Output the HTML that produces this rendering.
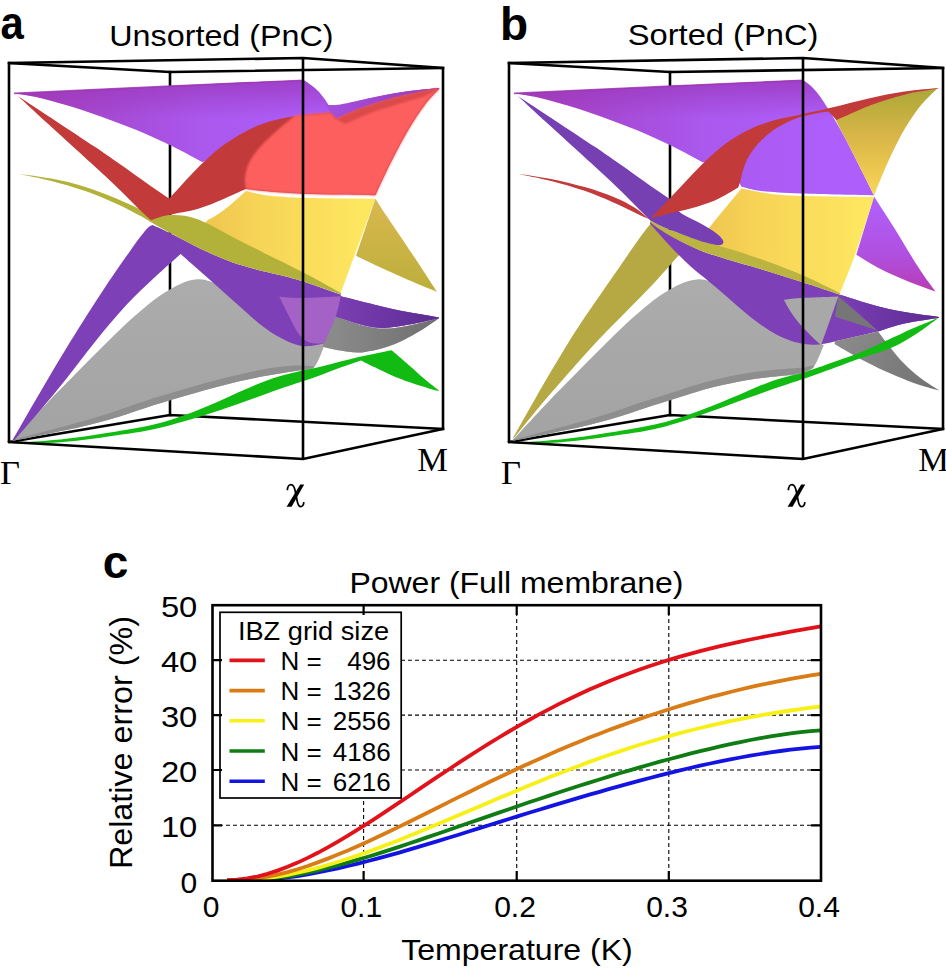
<!DOCTYPE html>
<html><head><meta charset="utf-8"><title>Band structure figure</title>
<style>html,body{margin:0;padding:0;background:#fff;width:946px;height:968px;overflow:hidden}svg{display:block}
</style></head>
<body>
<svg width="946" height="968" viewBox="0 0 946 968">
<defs><linearGradient id="gp1a" gradientUnits="userSpaceOnUse" x1="14" y1="0" x2="330" y2="0"><stop offset="0" stop-color="#a83cb8"/><stop offset="0.3" stop-color="#a64ad4"/><stop offset="0.6" stop-color="#aa58ee"/><stop offset="1" stop-color="#ae5efa"/></linearGradient><linearGradient id="gp1oa" gradientUnits="userSpaceOnUse" x1="0" y1="80" x2="0" y2="118"><stop offset="0" stop-color="#9a36b8" stop-opacity="0.75"/><stop offset="1" stop-color="#9a36b8" stop-opacity="0"/></linearGradient><linearGradient id="gp1va" gradientUnits="userSpaceOnUse" x1="0" y1="80" x2="0" y2="100"><stop offset="0" stop-color="#9a34b0"/><stop offset="0.25" stop-color="#a040c0"/><stop offset="1" stop-color="#a040c0"/></linearGradient><linearGradient id="gr1a" gradientUnits="userSpaceOnUse" x1="260" y1="142" x2="276" y2="154"><stop offset="0" stop-color="#c23a3a"/><stop offset="1" stop-color="#fc5e5e"/></linearGradient><linearGradient id="gy2a" gradientUnits="userSpaceOnUse" x1="215" y1="0" x2="360" y2="0"><stop offset="0" stop-color="#f0c850"/><stop offset="0.3" stop-color="#f7d456"/><stop offset="1" stop-color="#fde660"/></linearGradient><linearGradient id="ggra" gradientUnits="userSpaceOnUse" x1="0" y1="280" x2="0" y2="420"><stop offset="0" stop-color="#acacac"/><stop offset="1" stop-color="#a4a4a4"/></linearGradient><linearGradient id="gg3a" gradientUnits="userSpaceOnUse" x1="0" y1="200" x2="0" y2="292"><stop offset="0" stop-color="#d9b850"/><stop offset="1" stop-color="#bcae3a"/></linearGradient><linearGradient id="gp1b" gradientUnits="userSpaceOnUse" x1="514" y1="0" x2="830" y2="0"><stop offset="0" stop-color="#a83cb8"/><stop offset="0.3" stop-color="#a64ad4"/><stop offset="0.6" stop-color="#aa58ee"/><stop offset="1" stop-color="#ae5efa"/></linearGradient><linearGradient id="gp1ob" gradientUnits="userSpaceOnUse" x1="0" y1="80" x2="0" y2="118"><stop offset="0" stop-color="#9a36b8" stop-opacity="0.75"/><stop offset="1" stop-color="#9a36b8" stop-opacity="0"/></linearGradient><linearGradient id="gp1vb" gradientUnits="userSpaceOnUse" x1="0" y1="80" x2="0" y2="100"><stop offset="0" stop-color="#9a34b0"/><stop offset="0.25" stop-color="#a040c0"/><stop offset="1" stop-color="#a040c0"/></linearGradient><linearGradient id="gr1b" gradientUnits="userSpaceOnUse" x1="760" y1="142" x2="776" y2="154"><stop offset="0" stop-color="#c23a3a"/><stop offset="1" stop-color="#fc5e5e"/></linearGradient><linearGradient id="gy2b" gradientUnits="userSpaceOnUse" x1="715" y1="0" x2="860" y2="0"><stop offset="0" stop-color="#f0c850"/><stop offset="0.3" stop-color="#f7d456"/><stop offset="1" stop-color="#fde660"/></linearGradient><linearGradient id="ggrb" gradientUnits="userSpaceOnUse" x1="0" y1="280" x2="0" y2="420"><stop offset="0" stop-color="#acacac"/><stop offset="1" stop-color="#a4a4a4"/></linearGradient><linearGradient id="gg3b" gradientUnits="userSpaceOnUse" x1="0" y1="200" x2="0" y2="292"><stop offset="0" stop-color="#d9b850"/><stop offset="1" stop-color="#bcae3a"/></linearGradient><linearGradient id="gp1s" gradientUnits="userSpaceOnUse" x1="330" y1="0" x2="440" y2="0"><stop offset="0" stop-color="#a44ede"/><stop offset="1" stop-color="#9a3ab6"/></linearGradient><linearGradient id="ggrd" gradientUnits="userSpaceOnUse" x1="835" y1="335" x2="935" y2="390"><stop offset="0" stop-color="#8c8c8c"/><stop offset="1" stop-color="#727272"/></linearGradient><linearGradient id="ggrs" gradientUnits="userSpaceOnUse" x1="335" y1="0" x2="439" y2="0"><stop offset="0" stop-color="#8a8a8a"/><stop offset="1" stop-color="#6e6e6e"/></linearGradient><linearGradient id="gp2sa" gradientUnits="userSpaceOnUse" x1="340" y1="0" x2="439" y2="0"><stop offset="0" stop-color="#7a3eb0"/><stop offset="0.4" stop-color="#6e36a6"/><stop offset="1" stop-color="#5c2c90"/></linearGradient><linearGradient id="gp2sb" gradientUnits="userSpaceOnUse" x1="840" y1="0" x2="939" y2="0"><stop offset="0" stop-color="#7a3eb0"/><stop offset="0.4" stop-color="#6e36a6"/><stop offset="1" stop-color="#5c2c90"/></linearGradient><linearGradient id="ggold" gradientUnits="userSpaceOnUse" x1="0" y1="90" x2="0" y2="195"><stop offset="0" stop-color="#aca838"/><stop offset="0.45" stop-color="#dab648"/><stop offset="1" stop-color="#fad656"/></linearGradient><linearGradient id="gp1l" gradientUnits="userSpaceOnUse" x1="0" y1="200" x2="0" y2="291"><stop offset="0" stop-color="#b060fa"/><stop offset="0.6" stop-color="#b050e0"/><stop offset="1" stop-color="#b83cb4"/></linearGradient><filter id="soft" x="-5%" y="-5%" width="110%" height="110%"><feGaussianBlur stdDeviation="0.9"/></filter></defs>
<rect width="946" height="968" fill="#fff"/>
<g stroke="#000" stroke-width="2.6" fill="none" stroke-linecap="square">
<path d="M170,72 L170,415"/>
<path d="M9,442 L170,415 L443,429"/>
<path d="M9,63 L170,72 L443,68"/>
</g>
<g stroke="#000" stroke-width="2.6" fill="none" stroke-linecap="square">
<path d="M670,72 L670,415"/>
<path d="M509,442 L670,415 L943,429"/>
<path d="M509,63 L670,72 L943,68"/>
</g>
<g stroke="none">
<path d="M13.5,93.2 C37.9,92.1 111.7,88.6 160.0,86.4 C208.3,84.2 279.6,81.1 303.5,80.0 C305.3,81.3 311.2,84.9 314.5,87.8 C317.8,90.7 320.7,94.0 323.4,97.4 C326.1,100.8 329.4,106.4 330.6,108.2 C337.5,106.5 359.2,100.7 372.1,97.8 C384.9,95.0 396.4,92.9 407.6,91.3 C418.7,89.6 433.6,88.5 438.8,87.9 L439.5,88.6 C436.3,89.2 428.4,90.6 420.4,92.3 C412.4,94.0 401.4,96.3 391.5,99.1 C381.6,101.8 370.0,105.4 360.9,108.8 C351.7,112.2 340.6,117.5 336.5,119.2 C329.9,120.3 310.4,122.9 296.6,126.0 C282.8,129.2 266.4,133.7 253.8,138.2 C241.1,142.8 229.2,149.3 220.7,153.3 C212.1,157.3 205.6,160.7 202.6,162.2 C197.4,159.5 182.4,151.2 171.4,145.8 C160.4,140.5 148.1,135.0 136.5,130.1 C124.8,125.3 113.0,120.9 101.5,116.8 C90.0,112.7 78.4,108.9 67.7,105.6 C57.0,102.3 46.2,99.3 37.2,97.2 C28.2,95.2 17.4,93.9 13.5,93.2 Z" fill="url(#gp1a)"/>
<path d="M13.5,93.2 C37.9,92.1 111.7,88.6 160.0,86.4 C208.3,84.2 279.6,81.1 303.5,80.0 C305.3,81.3 311.2,84.9 314.5,87.8 C317.8,90.7 320.7,94.0 323.4,97.4 C326.1,100.8 329.4,106.4 330.6,108.2 C337.5,106.5 359.2,100.7 372.1,97.8 C384.9,95.0 396.4,92.9 407.6,91.3 C418.7,89.6 433.6,88.5 438.8,87.9 L439.5,88.6 C436.3,89.2 428.4,90.6 420.4,92.3 C412.4,94.0 401.4,96.3 391.5,99.1 C381.6,101.8 370.0,105.4 360.9,108.8 C351.7,112.2 340.6,117.5 336.5,119.2 C329.9,120.3 310.4,122.9 296.6,126.0 C282.8,129.2 266.4,133.7 253.8,138.2 C241.1,142.8 229.2,149.3 220.7,153.3 C212.1,157.3 205.6,160.7 202.6,162.2 C197.4,159.5 182.4,151.2 171.4,145.8 C160.4,140.5 148.1,135.0 136.5,130.1 C124.8,125.3 113.0,120.9 101.5,116.8 C90.0,112.7 78.4,108.9 67.7,105.6 C57.0,102.3 46.2,99.3 37.2,97.2 C28.2,95.2 17.4,93.9 13.5,93.2 Z" fill="url(#gp1oa)"/>
<path d="M14,93.4 L160,86.6 L303.5,80.3" fill="none" stroke="#9c36b0" stroke-width="1.6" opacity="0.8"/>
<path d="M326.0,105.0 C328.4,104.9 332.8,105.6 340.5,104.4 C348.1,103.3 360.9,100.0 372.1,97.8 C383.2,95.7 396.4,92.9 407.6,91.3 C418.7,89.6 433.6,88.5 438.8,87.9 L439.5,88.6 C436.3,89.2 428.4,90.6 420.4,92.3 C412.4,94.0 401.4,96.3 391.5,99.1 C381.6,101.8 370.0,105.4 360.9,108.8 C351.7,112.2 340.6,117.5 336.5,119.2 C335.5,118.1 332.4,114.8 330.6,112.4 C328.9,110.0 326.8,106.2 326.0,105.0 Z" fill="url(#gp1s)"/>
<path d="M246.0,191.0 C250.0,191.8 259.1,194.6 269.9,195.7 C280.7,196.9 293.0,197.5 310.5,198.0 C328.1,198.5 364.6,198.6 375.4,198.7 L340.7,292.9 C333.9,290.7 313.2,284.8 299.8,279.7 C286.4,274.7 272.3,268.7 260.3,262.8 C248.4,256.8 237.3,250.5 228.0,244.2 C218.6,238.0 208.2,228.2 204.3,225.0 C204.8,224.2 205.4,222.0 207.2,220.4 C209.0,218.9 211.8,218.2 215.2,215.9 C218.7,213.7 222.7,211.1 227.8,206.9 C232.9,202.8 243.0,193.7 246.0,191.0 Z" fill="url(#gy2a)"/>
<path d="M375.4,198.7 C377.0,201.2 380.9,207.4 384.9,213.5 C389.0,219.6 394.3,227.3 399.8,235.4 C405.2,243.5 411.4,252.8 417.7,262.2 C423.9,271.6 433.9,287.0 437.1,292.0 C432.9,290.3 420.5,285.2 412.1,281.6 C403.8,278.1 396.6,274.8 387.2,270.5 C377.9,266.2 361.2,258.2 356.0,255.7 L375.4,198.7 Z" fill="url(#gg3a)"/>
<path d="M12.7,440.0 C18.3,434.0 36.1,414.5 46.3,403.9 C56.4,393.2 64.2,385.6 73.5,376.1 C82.9,366.7 92.4,356.8 102.3,347.1 C112.2,337.3 123.5,326.1 133.0,317.6 C142.5,309.2 151.4,301.8 159.4,296.1 C167.4,290.5 174.7,286.5 180.9,283.7 C187.2,280.9 192.1,279.6 197.1,279.3 C202.1,279.0 205.3,279.6 211.1,281.8 C217.0,283.9 223.4,287.6 231.9,292.3 C240.5,297.0 251.8,304.0 262.5,310.0 C273.2,316.0 285.7,322.8 295.9,328.4 C306.2,334.0 319.2,341.1 323.8,343.6 L335.7,316.6 C340.1,318.1 354.2,323.4 362.2,325.4 C370.3,327.4 376.4,328.6 384.2,328.6 C392.1,328.6 400.1,327.1 409.3,325.4 C418.4,323.7 434.0,319.4 439.0,318.2 C435.6,320.4 426.7,327.1 418.6,331.7 C410.6,336.3 400.1,342.2 390.7,345.6 C381.2,349.1 370.2,351.5 361.9,352.4 C353.6,353.2 347.1,351.5 340.7,350.6 C334.4,349.7 326.6,347.6 323.8,347.0 C322.1,350.5 317.8,364.1 313.6,368.0 C309.4,371.9 300.9,370.2 298.4,370.6 C292.8,371.5 276.6,373.8 264.6,376.1 C252.6,378.4 240.2,381.1 226.5,384.6 C212.8,388.0 196.3,392.7 182.7,396.6 C169.0,400.5 155.8,404.7 144.6,408.2 C133.4,411.8 125.4,414.8 115.3,417.8 C105.3,420.7 95.5,423.4 84.6,426.0 C73.6,428.6 61.7,430.9 49.7,433.4 C37.7,435.9 18.9,439.6 12.7,440.8 Z" fill="url(#ggra)"/>
<path d="M12.7,439.8 C18.9,438.2 37.7,433.4 49.7,430.2 C61.7,427.0 73.6,423.9 84.6,420.8 C95.5,417.6 105.3,414.4 115.3,411.2 C125.4,407.9 133.4,404.8 144.6,401.2 C155.8,397.6 169.0,393.5 182.7,389.6 C196.3,385.7 212.8,381.0 226.5,377.6 C240.2,374.1 253.4,371.1 264.6,369.1 C275.8,367.1 285.6,366.0 293.8,365.5 C301.9,365.1 310.3,366.1 313.6,366.2 L313.6,368.0 C310.3,368.5 301.9,369.9 293.8,371.2 C285.6,372.6 275.8,373.9 264.6,376.1 C253.4,378.3 240.2,381.1 226.5,384.6 C212.8,388.0 196.3,392.7 182.7,396.6 C169.0,400.5 155.8,404.7 144.6,408.2 C133.4,411.8 125.4,414.8 115.3,417.8 C105.3,420.7 95.5,423.4 84.6,426.0 C73.6,428.6 61.7,430.9 49.7,433.4 C37.7,435.9 18.9,439.6 12.7,440.8 L12.7,439.8 Z" fill="#8e8e8e"/>
<path d="M335.7,316.6 C340.1,318.1 354.2,323.4 362.2,325.4 C370.3,327.4 376.4,328.6 384.2,328.6 C392.1,328.6 400.1,327.1 409.3,325.4 C418.4,323.7 434.0,319.4 439.0,318.2 C435.6,320.4 426.7,327.1 418.6,331.7 C410.6,336.3 400.1,342.2 390.7,345.6 C381.2,349.1 370.2,351.5 361.9,352.4 C353.6,353.2 347.1,351.5 340.7,350.6 C334.4,349.7 326.6,347.6 323.8,347.0 C323.8,346.4 321.8,348.7 323.8,343.6 C325.8,338.5 333.7,321.1 335.7,316.6 Z" fill="url(#ggrs)"/>
<path d="M12.4,440.3 C17.2,432.1 31.2,407.4 40.9,390.9 C50.6,374.3 60.4,357.7 70.7,341.1 C80.9,324.6 92.3,306.6 102.3,291.4 C112.3,276.2 123.5,260.2 130.8,249.9 C138.1,239.6 142.5,233.8 146.1,229.7 C149.7,225.5 151.2,225.8 152.2,225.0 C153.8,225.7 156.8,226.7 161.6,228.9 C166.3,231.2 173.3,234.7 180.6,238.4 C187.9,242.1 197.0,247.1 205.4,251.0 C213.7,254.9 222.3,258.7 230.7,261.8 C239.2,264.9 247.9,267.2 256.1,269.4 C264.3,271.6 271.5,272.9 279.8,275.1 C288.0,277.2 295.4,279.1 305.6,282.3 C315.7,285.6 334.8,292.6 340.7,294.6 L341.0,296.3 C346.6,297.7 363.5,302.1 374.6,304.7 C385.8,307.4 396.9,310.0 407.6,312.1 C418.3,314.2 433.8,316.5 439.0,317.4 L439.0,318.2 C434.0,319.3 418.4,322.9 409.3,324.6 C400.1,326.2 392.1,327.9 384.2,327.9 C376.4,328.0 370.3,326.9 362.2,325.0 C354.2,323.1 340.1,318.0 335.7,316.6 L323.8,343.6 C321.4,344.0 314.2,346.0 309.4,346.1 C304.7,346.3 300.9,346.1 295.6,344.4 C290.2,342.8 283.4,339.6 277.2,336.0 C271.1,332.4 264.4,327.5 258.4,322.9 C252.4,318.2 247.1,313.1 241.5,308.1 C235.9,303.1 230.0,297.8 224.6,292.9 C219.2,288.0 213.9,283.3 208.9,278.9 C204.0,274.6 199.7,270.8 195.0,266.7 C190.2,262.5 183.0,256.1 180.6,254.0 C176.4,257.8 164.4,268.3 155.3,276.8 C146.3,285.3 136.3,294.3 126.3,305.1 C116.4,315.8 105.5,329.0 95.5,341.2 C85.6,353.4 75.9,366.6 66.7,378.2 C57.4,389.8 48.8,400.2 40.1,410.5 C31.4,420.8 18.8,435.1 14.5,440.0 Z" fill="#7e40b6"/>
<path d="M341.0,296.3 C346.6,297.7 363.5,302.1 374.6,304.7 C385.8,307.4 396.9,310.0 407.6,312.1 C418.3,314.2 433.8,316.5 439.0,317.4 L439.0,318.2 C434.0,319.3 418.4,322.9 409.3,324.6 C400.1,326.2 392.1,327.9 384.2,327.9 C376.4,328.0 370.3,326.9 362.2,325.0 C354.2,323.1 340.1,318.0 335.7,316.6 L341.0,296.3 Z" fill="url(#gp2sa)"/>
<path d="M279.3,296.8 C283.3,297.0 293.3,298.1 303.5,298.0 C313.7,297.9 334.5,296.6 340.7,296.3 C339.9,299.7 338.5,308.7 335.7,316.6 C332.9,324.5 325.8,339.1 323.8,343.6 C321.4,343.4 313.5,344.1 309.4,342.6 C305.4,341.2 302.5,338.8 299.2,334.6 C296.0,330.5 293.1,324.0 289.8,317.7 C286.5,311.4 281.1,300.3 279.3,296.8 Z" fill="#a462c6"/>
<path d="M19.5,173.9 C24.8,174.7 40.5,176.4 51.4,178.6 C62.2,180.7 73.8,183.4 84.6,186.8 C95.4,190.1 106.9,194.8 116.3,198.6 C125.7,202.4 133.8,206.8 140.8,209.4 C147.7,212.0 152.6,213.2 158.2,214.2 C163.8,215.1 169.1,214.6 174.4,215.1 C179.8,215.5 184.8,215.6 190.2,216.9 C195.5,218.2 199.7,219.8 206.4,223.0 C213.2,226.2 221.0,230.8 230.8,235.9 C240.5,241.0 253.1,247.4 265.0,253.4 C277.0,259.4 289.9,265.5 302.5,272.1 C315.1,278.7 334.3,289.4 340.7,292.9 L341.5,294.6 C335.5,292.6 316.0,285.6 305.8,282.3 C295.5,279.1 288.0,277.2 279.8,275.1 C271.5,272.9 264.3,271.6 256.1,269.4 C247.9,267.2 239.2,264.9 230.7,261.8 C222.3,258.7 213.7,254.9 205.4,251.0 C197.0,247.1 187.9,242.2 180.6,238.4 C173.3,234.6 166.4,231.0 161.6,228.3 C156.7,225.6 155.0,224.5 151.3,222.3 C147.6,220.2 145.4,218.5 139.6,215.4 C133.7,212.3 125.5,207.8 116.3,203.7 C107.1,199.6 95.4,194.6 84.6,190.8 C73.8,187.0 62.2,183.7 51.4,180.9 C40.5,178.1 24.8,175.1 19.5,173.9 Z" fill="#b2b23a"/>
<path d="M17.8,96.1 C24.8,100.7 46.7,115.0 59.5,123.4 C72.3,131.8 84.7,140.0 94.4,146.6 C104.1,153.1 110.9,157.9 117.6,162.6 C124.3,167.3 129.2,170.8 134.8,174.8 C140.4,178.8 145.6,182.5 151.3,186.5 C157.1,190.5 166.3,196.6 169.3,198.6 C172.4,195.2 182.0,184.5 188.0,178.1 C193.9,171.8 198.7,166.5 205.0,160.8 C211.2,155.0 217.9,149.0 225.4,143.8 C233.0,138.5 241.7,133.1 250.0,129.2 C258.3,125.2 266.6,122.4 275.1,120.1 C283.7,117.8 292.2,116.5 301.5,115.2 C310.7,114.0 325.7,112.9 330.6,112.4 L336.5,119.2 C340.6,117.5 351.7,112.2 360.9,108.8 C370.0,105.4 381.6,101.8 391.5,99.1 C401.4,96.3 412.4,94.0 420.4,92.3 C428.4,90.6 436.3,89.2 439.5,88.6 C437.0,91.4 429.8,98.4 424.6,105.2 C419.4,112.1 413.6,121.0 408.4,129.8 C403.2,138.6 397.5,149.7 393.2,158.1 C388.8,166.5 385.3,173.9 382.4,180.1 C379.4,186.3 376.6,192.8 375.4,195.3 C369.4,195.2 351.4,194.9 339.2,194.6 C327.0,194.4 313.7,194.2 302.3,193.7 C290.9,193.2 280.1,192.5 270.8,191.7 C261.4,190.9 250.1,189.5 246.0,189.0 C244.7,189.6 241.7,190.9 238.1,192.5 C234.5,194.1 229.7,196.2 224.6,198.4 C219.5,200.5 213.3,203.4 207.6,205.5 C201.9,207.6 195.9,209.4 190.6,210.8 C185.3,212.1 180.3,212.5 175.8,213.4 C171.3,214.3 167.6,214.9 163.5,216.1 C159.4,217.2 153.3,219.6 151.3,220.3 C150.2,219.3 147.9,217.5 144.4,214.2 C141.0,210.9 135.8,205.7 130.4,200.4 C125.0,195.1 118.7,188.8 112.1,182.5 C105.4,176.2 98.8,170.1 90.5,162.5 C82.2,154.9 71.5,145.2 62.5,136.9 C53.4,128.7 43.8,120.0 36.4,113.2 C28.9,106.3 20.9,98.9 17.8,96.1 Z" fill="#c23a3a"/>
<path d="M296.0,115.0 C296.7,115.0 294.2,115.2 300.0,114.8 C305.8,114.4 325.5,112.8 330.6,112.4 L336.5,119.2 C340.6,117.5 351.7,112.2 360.9,108.8 C370.0,105.4 381.6,101.8 391.5,99.1 C401.4,96.3 412.4,94.0 420.4,92.3 C428.4,90.6 436.3,89.2 439.5,88.6 C437.0,91.4 429.8,98.4 424.6,105.2 C419.4,112.1 413.6,121.0 408.4,129.8 C403.2,138.6 397.5,149.7 393.2,158.1 C388.8,166.5 385.3,173.9 382.4,180.1 C379.4,186.3 376.6,192.8 375.4,195.3 C369.4,195.2 351.4,194.9 339.2,194.6 C327.0,194.4 313.7,194.2 302.3,193.7 C290.9,193.2 280.1,192.5 270.8,191.7 C261.4,190.9 250.1,189.5 246.0,189.0 C245.8,187.4 244.8,182.8 245.0,179.2 C245.2,175.8 245.7,171.9 247.0,168.0 C248.3,164.1 250.2,160.1 253.0,156.0 C255.8,151.9 259.2,147.7 263.5,143.2 C267.8,138.8 273.1,134.0 278.5,129.2 C283.9,124.5 293.1,117.4 296.0,115.0 Z" fill="#fd5f5f" filter="url(#soft)"/>
<path d="M336.5,119.2 C340.6,117.5 351.7,112.2 360.9,108.8 C370.0,105.4 381.6,101.8 391.5,99.1 C401.4,96.3 412.4,94.0 420.4,92.3 C428.4,90.6 436.3,89.2 439.5,88.6 C437.1,89.8 431.5,93.4 424.9,95.9 C418.3,98.4 408.9,100.7 400.0,103.5 C391.1,106.3 380.4,109.3 371.2,112.8 C362.1,116.2 349.4,122.1 345.0,124.0 L336.5,119.2 Z" fill="#dc4a4a" filter="url(#soft)"/>
<path d="M12.0,442.6 C14.7,442.5 21.6,442.4 28.4,442.0 C35.2,441.6 43.5,441.1 52.9,440.1 C62.2,439.2 74.2,437.8 84.6,436.4 C95.0,435.0 106.2,433.2 115.3,431.8 C124.5,430.3 132.2,429.0 139.6,427.6 C147.0,426.2 152.7,425.1 160.0,423.1 C167.3,421.1 174.5,418.9 183.4,415.6 C192.4,412.3 203.5,407.8 213.8,403.4 C224.2,398.9 235.7,393.4 245.6,389.2 C255.4,385.0 264.2,381.2 273.0,378.2 C281.8,375.3 290.3,373.5 298.4,371.5 C306.5,369.6 314.5,368.3 321.5,366.6 C328.5,365.0 334.4,363.2 340.4,361.6 C346.4,360.1 351.8,358.6 357.5,357.2 C363.2,355.9 368.9,354.9 374.6,353.7 C380.3,352.5 388.7,350.9 391.5,350.3 C394.3,352.7 402.9,359.9 408.4,364.7 C413.9,369.4 419.4,374.7 424.6,379.1 C429.8,383.4 437.0,389.0 439.5,391.0 C437.7,390.6 433.7,389.7 428.9,388.4 C424.0,387.0 416.8,384.8 410.5,382.6 C404.3,380.4 397.4,377.8 391.5,375.2 C385.6,372.8 380.5,370.1 375.4,367.6 C370.3,365.1 363.4,361.6 361.0,360.4 C357.7,361.5 347.6,364.9 341.2,367.2 C334.8,369.5 328.8,372.0 322.4,374.4 C315.9,376.8 309.6,379.0 302.2,381.6 C294.9,384.1 287.2,386.4 278.1,389.6 C269.0,392.8 258.4,396.8 247.7,400.6 C237.0,404.4 224.5,408.8 213.8,412.2 C203.1,415.7 192.4,418.9 183.4,421.4 C174.5,424.0 167.3,426.1 160.0,427.8 C152.7,429.5 147.0,430.6 139.6,431.9 C132.2,433.1 124.5,434.1 115.3,435.4 C106.2,436.8 95.0,438.4 84.6,439.7 C74.2,440.9 62.2,442.1 52.9,442.8 C43.5,443.4 35.2,443.5 28.4,443.5 C21.6,443.6 14.7,443.3 12.0,443.2 Z" fill="#12bb12"/>
</g>
<g stroke="none">
<path d="M513.5,93.2 C537.9,92.1 611.8,88.6 660.0,86.4 C708.2,84.2 779.1,81.1 802.9,80.0 C804.3,81.1 808.6,83.9 811.4,86.6 C814.2,89.3 817.0,92.6 819.8,96.3 C822.6,100.1 825.5,104.6 828.3,109.0 C831.1,113.5 833.9,118.1 836.7,123.0 C839.5,127.9 842.4,132.9 845.2,138.2 C848.0,143.5 850.7,148.8 853.7,154.7 C856.6,160.6 859.6,166.5 863.0,173.3 C866.4,180.2 872.2,191.8 874.0,195.5 C861.9,195.2 819.9,194.4 801.1,193.6 C782.3,192.9 771.0,192.1 761.1,191.0 C751.1,189.8 744.8,187.4 741.5,186.7 C740.1,184.2 736.6,175.6 732.9,171.7 C729.2,167.7 724.4,164.6 719.4,163.1 C714.4,161.5 705.4,162.3 702.6,162.2 C697.4,159.5 682.4,151.2 671.4,145.8 C660.4,140.5 648.1,135.0 636.5,130.1 C624.8,125.3 613.0,120.9 601.5,116.8 C590.0,112.7 578.4,108.9 567.7,105.6 C557.0,102.3 546.2,99.3 537.2,97.2 C528.2,95.2 517.5,93.9 513.5,93.2 Z" fill="url(#gp1b)"/>
<path d="M513.5,93.2 C537.9,92.1 611.8,88.6 660.0,86.4 C708.2,84.2 779.1,81.1 802.9,80.0 C804.3,81.1 808.6,83.9 811.4,86.6 C814.2,89.3 817.0,92.6 819.8,96.3 C822.6,100.1 825.5,104.6 828.3,109.0 C831.1,113.5 833.9,118.1 836.7,123.0 C839.5,127.9 842.4,132.9 845.2,138.2 C848.0,143.5 850.7,148.8 853.7,154.7 C856.6,160.6 859.6,166.5 863.0,173.3 C866.4,180.2 872.2,191.8 874.0,195.5 C861.9,195.2 819.9,194.4 801.1,193.6 C782.3,192.9 771.0,192.1 761.1,191.0 C751.1,189.8 744.8,187.4 741.5,186.7 C740.1,184.2 736.6,175.6 732.9,171.7 C729.2,167.7 724.4,164.6 719.4,163.1 C714.4,161.5 705.4,162.3 702.6,162.2 C697.4,159.5 682.4,151.2 671.4,145.8 C660.4,140.5 648.1,135.0 636.5,130.1 C624.8,125.3 613.0,120.9 601.5,116.8 C590.0,112.7 578.4,108.9 567.7,105.6 C557.0,102.3 546.2,99.3 537.2,97.2 C528.2,95.2 517.5,93.9 513.5,93.2 Z" fill="url(#gp1ob)"/>
<path d="M514,93.4 L660,86.6 L802.9,80.3" fill="none" stroke="#9c36b0" stroke-width="1.6" opacity="0.8"/>
<path d="M874.0,196.5 C876.3,200.0 883.1,210.5 887.6,217.6 C892.2,224.7 896.8,232.3 901.0,239.1 C905.2,246.0 909.1,252.6 912.9,258.7 C916.7,264.8 920.1,270.0 923.8,275.5 C927.6,281.0 933.6,288.8 935.5,291.5 C930.8,289.7 916.4,284.7 907.1,280.9 C897.9,277.1 888.4,273.1 880.0,268.8 C871.5,264.4 860.2,257.0 856.3,254.7 L874.0,196.5 Z" fill="url(#gp1l)"/>
<path d="M834.0,116.0 C840.0,113.9 858.2,107.3 869.9,103.6 C881.6,100.0 893.0,96.6 904.2,94.0 C915.5,91.5 932.0,89.2 937.5,88.2 C934.8,91.0 926.5,98.5 921.1,105.1 C915.8,111.8 910.1,120.0 905.2,128.1 C900.4,136.2 895.7,145.8 891.7,153.9 C887.8,162.0 884.5,169.8 881.6,176.8 C878.6,183.7 875.3,192.4 874.0,195.5 C872.2,191.8 866.4,180.2 863.0,173.4 C859.6,166.6 856.6,160.6 853.7,154.7 C850.7,148.8 847.8,143.2 845.2,138.2 C842.6,133.2 840.0,128.5 838.2,124.8 C836.3,121.0 834.7,117.5 834.0,116.0 Z" fill="url(#ggold)"/>
<path d="M741.5,188.4 C748.9,189.6 763.9,193.9 786.0,195.3 C808.1,196.7 859.3,196.7 874.0,197.0 C870.9,206.5 860.9,238.1 855.3,254.1 C849.6,270.1 842.6,286.5 840.1,293.0 C834.7,291.4 817.4,286.1 808.0,283.3 C798.5,280.5 791.8,279.0 783.3,276.2 C774.8,273.4 766.3,270.4 756.9,266.4 C747.4,262.5 736.4,257.2 726.9,252.5 C717.4,247.8 704.5,240.4 700.0,238.0 C701.7,236.1 706.0,231.4 710.1,226.5 C714.2,221.6 719.6,214.9 724.8,208.6 C730.0,202.2 738.7,191.8 741.5,188.4 Z" fill="url(#gy2b)"/>
<path d="M512.7,440.0 C518.3,434.0 536.1,414.5 546.3,403.9 C556.4,393.2 564.2,385.6 573.5,376.1 C582.9,366.7 592.4,356.8 602.3,347.1 C612.2,337.3 623.5,326.1 633.0,317.6 C642.5,309.2 651.4,301.8 659.4,296.1 C667.4,290.5 674.7,286.5 681.0,283.7 C687.2,280.9 692.1,279.7 697.1,279.4 C702.1,279.1 705.3,279.7 711.2,281.9 C717.0,284.0 723.4,287.7 731.9,292.4 C740.5,297.1 751.8,303.9 762.5,310.0 C773.2,316.1 785.7,322.9 796.0,328.8 C806.2,334.7 819.2,342.5 823.8,345.2 C822.1,348.9 817.3,362.3 813.6,367.2 C809.9,372.1 803.8,373.5 801.8,374.8 C797.9,375.1 787.1,375.5 778.1,376.3 C769.1,377.1 758.4,378.1 747.7,379.9 C737.0,381.7 725.4,384.1 713.8,387.1 C702.3,390.0 690.0,393.9 678.5,397.5 C666.9,401.0 655.1,404.8 644.6,408.2 C634.1,411.6 625.4,414.8 615.4,417.8 C605.3,420.7 595.5,423.4 584.6,426.0 C573.6,428.6 561.7,430.9 549.7,433.4 C537.7,435.9 518.9,439.6 512.7,440.8 Z" fill="url(#ggrb)"/>
<path d="M512.7,439.8 C518.9,438.2 537.7,433.4 549.7,430.2 C561.7,427.0 573.6,423.9 584.6,420.8 C595.5,417.6 605.3,414.4 615.4,411.2 C625.4,407.9 634.1,404.7 644.6,401.2 C655.1,397.8 666.9,394.0 678.5,390.4 C690.0,386.9 702.3,383.0 713.8,380.1 C725.4,377.1 737.0,374.6 747.7,372.9 C758.4,371.1 769.5,370.3 778.1,369.5 C786.8,368.7 793.8,368.5 799.7,367.8 C805.6,367.2 811.3,365.8 813.6,365.4 L813.6,367.2 C811.3,368.2 805.6,371.6 799.7,373.1 C793.8,374.6 786.8,375.2 778.1,376.3 C769.5,377.4 758.4,378.1 747.7,379.9 C737.0,381.7 725.4,384.1 713.8,387.1 C702.3,390.0 690.0,393.9 678.5,397.5 C666.9,401.0 655.1,404.8 644.6,408.2 C634.1,411.6 625.4,414.8 615.4,417.8 C605.3,420.7 595.5,423.4 584.6,426.0 C573.6,428.6 561.7,430.9 549.7,433.4 C537.7,435.9 518.9,439.6 512.7,440.8 L512.7,439.8 Z" fill="#8e8e8e"/>
<path d="M512.7,438.5 C518.0,429.3 534.5,399.8 544.2,383.0 C554.0,366.3 563.0,351.1 571.2,338.0 C579.5,324.9 585.5,316.3 593.5,304.5 C601.5,292.7 611.1,279.0 619.2,267.4 C627.3,255.7 636.7,242.1 642.2,234.6 C647.7,227.0 650.4,224.1 652.0,222.0 C653.6,223.7 658.1,228.2 661.5,232.2 C664.8,236.2 668.8,242.2 671.9,245.8 C675.0,249.5 678.6,252.6 679.9,254.0 C675.7,258.7 663.2,273.1 655.0,282.0 C646.7,290.9 638.8,298.6 630.4,307.2 C622.0,315.9 613.6,324.0 604.3,333.8 C595.0,343.5 584.7,354.7 574.8,365.9 C564.8,377.1 554.4,388.9 544.4,400.8 C534.4,412.7 519.7,431.0 514.8,437.0 Z" fill="#b6a842"/>
<path d="M650.1,222.0 C654.1,224.6 666.0,233.0 674.2,237.6 C682.4,242.3 690.5,246.3 699.2,249.9 C707.9,253.5 716.5,256.0 726.7,259.2 C736.9,262.4 748.2,265.3 760.4,268.9 C772.5,272.6 786.3,276.9 799.6,281.2 C812.9,285.5 833.4,292.4 840.1,294.7 C845.3,296.3 860.7,301.5 871.4,304.4 C882.2,307.4 893.3,310.0 904.6,312.1 C915.9,314.2 933.3,316.2 939.0,317.0 L939.0,317.7 C933.2,318.7 914.6,321.2 904.4,323.5 C894.2,325.8 882.4,330.2 878.0,331.5 C872.0,332.9 851.9,337.7 842.1,339.8 C832.3,342.0 826.3,343.9 819.2,344.4 C812.0,345.0 806.1,344.7 799.1,343.1 C792.1,341.6 784.0,338.4 777.2,335.0 C770.5,331.7 764.4,327.3 758.4,323.1 C752.4,318.8 747.1,314.3 741.5,309.6 C735.9,304.8 730.2,299.6 724.6,294.7 C719.0,289.9 713.3,285.1 707.7,280.4 C702.0,275.6 696.7,271.8 690.7,266.4 C684.8,261.0 678.9,255.3 672.1,248.2 C665.3,241.1 653.8,227.8 650.1,223.7 Z" fill="#7e40b6"/>
<path d="M840.1,294.7 C845.3,296.3 860.7,301.5 871.4,304.4 C882.2,307.4 893.3,310.0 904.6,312.1 C915.9,314.2 933.3,316.2 939.0,317.0 L939.0,317.7 C933.2,318.7 914.6,321.2 904.4,323.5 C894.2,325.8 882.4,330.2 878.0,331.5 L840.1,294.7 Z" fill="url(#gp2sb)"/>
<path d="M783.8,299.8 C786.5,299.5 790.9,298.6 800.0,298.0 C809.1,297.4 832.0,296.7 838.4,296.4 L821.0,345.2 C819.4,343.7 814.7,339.5 811.2,336.1 C807.8,332.6 803.9,328.7 800.5,324.8 C797.1,320.8 793.7,316.4 791.0,312.2 C788.2,308.0 785.0,301.9 783.8,299.8 Z" fill="#a8a8a8"/>
<path d="M838.4,296.4 L877.3,330.2 L835.0,316.7 L838.4,296.4 Z" fill="#767676"/>
<path d="M834.7,341.3 L878.0,331.5 C880.2,334.3 886.6,342.9 890.9,348.2 C895.2,353.5 899.0,358.4 903.8,363.3 C908.6,368.2 913.8,373.0 919.8,377.5 C925.7,382.1 936.2,388.4 939.5,390.6 C937.3,390.0 931.9,388.8 926.5,387.1 C921.1,385.4 914.1,383.1 907.2,380.4 C900.3,377.7 892.3,374.6 884.8,371.1 C877.3,367.7 869.2,363.5 862.4,360.0 C855.6,356.4 848.9,352.4 844.3,349.7 C839.7,347.1 836.3,345.1 834.7,344.2 Z" fill="url(#ggrd)"/>
<path d="M512.0,442.6 C514.7,442.5 521.6,442.4 528.4,442.0 C535.2,441.6 543.5,441.1 552.9,440.1 C562.2,439.2 574.2,437.8 584.6,436.4 C595.0,435.0 606.2,433.2 615.4,431.8 C624.5,430.3 632.2,429.0 639.6,427.6 C647.0,426.2 652.7,425.2 660.0,423.3 C667.3,421.5 674.5,419.5 683.5,416.5 C692.4,413.5 703.5,409.4 713.8,405.3 C724.2,401.2 736.0,395.8 745.5,391.9 C755.1,387.9 763.7,384.0 770.9,381.4 C778.1,378.8 783.5,377.6 788.7,376.2 C793.9,374.9 797.3,374.6 802.2,373.1 C807.1,371.7 812.1,369.6 818.1,367.5 C824.1,365.4 831.6,362.6 838.0,360.4 C844.5,358.1 850.9,356.1 856.8,353.9 C862.7,351.6 868.2,349.2 873.5,346.8 C878.8,344.3 883.9,341.7 888.8,339.4 C893.7,337.1 897.8,335.2 902.9,332.9 C908.0,330.6 913.3,328.2 919.4,325.6 C925.4,323.1 935.7,318.8 939.0,317.4 C935.7,319.8 925.4,327.7 919.4,331.8 C913.4,335.9 908.1,339.2 903.0,342.0 C897.9,344.9 893.9,346.7 889.0,348.8 C884.1,350.8 879.0,352.3 873.6,354.1 C868.2,355.9 862.4,357.7 856.8,359.6 C851.2,361.6 845.9,363.6 840.2,365.7 C834.4,367.8 828.7,369.9 822.3,372.2 C816.0,374.4 809.6,376.7 802.2,379.2 C794.9,381.8 787.2,384.2 778.1,387.3 C769.0,390.4 758.4,394.2 747.7,398.1 C737.0,402.0 724.5,406.8 713.8,410.6 C703.1,414.4 692.4,418.2 683.5,421.0 C674.5,423.9 667.3,426.0 660.0,427.8 C652.7,429.6 647.0,430.6 639.6,431.9 C632.2,433.1 624.5,434.1 615.4,435.4 C606.2,436.8 595.0,438.4 584.6,439.7 C574.2,440.9 562.2,442.1 552.9,442.8 C543.5,443.4 535.2,443.5 528.4,443.5 C521.6,443.6 514.7,443.3 512.0,443.2 Z" fill="#12bb12"/>
<path d="M650.1,220.3 C652.0,221.3 656.2,223.9 661.5,226.2 C666.9,228.6 675.0,231.6 682.3,234.2 C689.6,236.9 698.5,240.0 705.6,242.2 C712.6,244.4 717.9,245.6 724.6,247.6 C731.3,249.6 737.7,251.4 745.7,254.0 C753.8,256.7 763.3,259.8 773.0,263.4 C782.7,267.0 792.7,270.7 803.9,275.7 C815.0,280.6 834.1,290.1 840.1,293.0 L840.1,294.7 C833.4,292.4 812.9,285.5 799.6,281.2 C786.3,276.9 772.5,272.6 760.4,268.9 C748.2,265.3 736.9,262.4 726.7,259.2 C716.5,256.0 707.8,253.3 699.2,249.9 C690.6,246.4 682.0,242.1 675.1,238.5 C668.2,234.8 661.9,230.7 657.7,227.9 C653.6,225.2 651.4,223.0 650.1,222.0 Z" fill="#bcb440"/>
<path d="M518.6,173.9 C524.0,174.7 540.2,176.7 551.1,178.9 C562.1,181.1 574.1,184.0 584.6,187.1 C595.1,190.1 605.9,193.8 614.2,197.2 C622.5,200.6 628.7,203.9 634.5,207.5 C640.3,211.1 646.6,217.1 649.0,219.0 C647.3,218.3 644.2,217.1 638.8,214.5 C633.3,212.0 625.3,207.6 616.3,203.7 C607.3,199.8 595.4,194.6 584.6,190.8 C573.7,187.0 562.1,183.7 551.1,180.9 C540.2,178.1 524.0,175.1 518.6,173.9 Z" fill="#c23a3a"/>
<path d="M517.8,96.1 C524.8,100.7 546.7,115.0 559.5,123.4 C572.3,131.8 584.7,140.0 594.4,146.6 C604.1,153.1 610.9,157.9 617.6,162.6 C624.3,167.3 629.2,170.8 634.8,174.8 C640.4,178.8 645.6,182.5 651.3,186.5 C657.1,190.5 666.3,196.6 669.3,198.6 C670.4,200.2 673.3,205.6 675.9,208.4 C678.5,211.3 681.1,213.2 685.0,215.6 C688.8,218.0 694.4,220.2 699.2,222.8 C704.0,225.4 709.9,228.7 713.6,231.3 C717.3,233.9 720.1,236.4 721.7,238.4 C723.3,240.3 723.8,241.9 723.3,243.0 C722.8,244.2 721.7,245.3 718.6,245.2 C715.5,245.1 710.7,244.1 704.7,242.3 C698.6,240.5 689.5,237.1 682.3,234.4 C675.1,231.7 666.9,228.6 661.5,226.2 C656.2,223.9 652.0,221.3 650.1,220.3 C649.1,219.3 647.4,217.5 644.2,214.2 C640.9,210.9 635.8,205.7 630.4,200.4 C625.1,195.1 618.7,188.8 612.1,182.5 C605.4,176.2 598.8,170.1 590.5,162.5 C582.2,154.9 571.5,145.2 562.5,136.9 C553.4,128.7 543.8,120.0 536.3,113.2 C528.9,106.3 520.9,98.9 517.8,96.1 Z" fill="#7640b2"/>
<path d="M650.1,218.8 C654.0,214.8 665.0,203.2 673.4,194.5 C681.7,185.8 691.4,174.9 700.0,166.4 C708.7,157.9 717.1,150.0 725.5,143.8 C733.8,137.6 741.7,133.1 750.0,129.2 C758.3,125.2 766.7,122.5 775.1,120.1 C783.6,117.6 791.5,116.5 800.9,114.4 C810.3,112.3 820.5,110.2 831.8,107.5 C843.1,104.8 856.4,101.1 868.5,98.4 C880.6,95.8 892.8,93.2 904.4,91.5 C916.0,89.7 932.6,88.5 938.2,87.9 L938.2,88.6 C932.6,89.6 915.7,91.9 904.4,94.7 C893.1,97.4 881.9,101.0 870.6,105.2 C859.3,109.5 842.3,117.5 836.7,120.0 L828.3,111.6 C826.0,111.9 819.4,112.7 814.4,113.7 C809.3,114.7 803.9,115.7 798.0,117.8 C792.1,120.0 785.2,122.8 779.1,126.6 C773.0,130.3 766.4,135.3 761.4,140.3 C756.4,145.2 752.1,151.1 749.0,156.1 C745.9,161.1 744.4,166.3 743.0,170.4 C741.5,174.5 741.2,178.0 740.4,180.9 C739.6,183.7 738.6,186.4 738.2,187.5 C734.3,189.7 722.6,197.0 714.8,200.4 C706.9,203.8 698.8,206.0 691.4,208.2 C683.9,210.4 676.9,211.6 670.0,213.3 C663.1,215.1 653.4,217.9 650.1,218.8 Z" fill="#c23a3a"/>
</g>
<g stroke="#000" stroke-width="2.6" fill="none" stroke-linejoin="miter">
<path d="M9,442 L9,63 L303,58 L443,68 L443,429 L303,459 L9,442"/>
<path d="M303,58 L303,459"/>
</g>
<g stroke="#000" stroke-width="2.6" fill="none" stroke-linejoin="miter">
<path d="M509,442 L509,63 L803,58 L943,68 L943,429 L803,459 L509,442"/>
<path d="M803,58 L803,459"/>
</g>
<text x="0.5" y="39.3" font-family="Liberation Sans, sans-serif" font-size="46" font-weight="bold" textLength="23.3" lengthAdjust="spacingAndGlyphs">a</text>
<text x="500" y="39.8" font-family="Liberation Sans, sans-serif" font-size="46" font-weight="bold">b</text>
<text x="102.7" y="578.3" font-family="Liberation Sans, sans-serif" font-size="46" font-weight="bold">c</text>
<text x="109.3" y="45.5" font-family="Liberation Sans, sans-serif" font-size="30" textLength="224.3" lengthAdjust="spacingAndGlyphs">Unsorted (PnC)</text>
<text x="627.7" y="45.3" font-family="Liberation Sans, sans-serif" font-size="30" textLength="190.8" lengthAdjust="spacingAndGlyphs">Sorted (PnC)</text>
<text x="0" y="483.5" font-family="Liberation Serif, serif" font-size="34.5">Γ</text>
<g transform="translate(0,0)"><path d="M300.2,484.4 L304.2,484.4 L291.6,506.8 L286.6,506.8 Z" fill="#000"/><path d="M287.4,490.2 C287.4,486.6 289.2,484.6 291,484.6 C293.4,484.6 294.6,487.6 295.3,491.5 L297.3,501.5 C298,505 299.2,506.6 300.8,506.6 C302.6,506.6 303.6,504.6 303.9,502.2" fill="none" stroke="#000" stroke-width="1.7"/></g>
<text x="417.3" y="471" font-family="Liberation Serif, serif" font-size="34.5">M</text>
<text x="501" y="483.5" font-family="Liberation Serif, serif" font-size="34.5">Γ</text>
<g transform="translate(501,0)"><path d="M300.2,484.4 L304.2,484.4 L291.6,506.8 L286.6,506.8 Z" fill="#000"/><path d="M287.4,490.2 C287.4,486.6 289.2,484.6 291,484.6 C293.4,484.6 294.6,487.6 295.3,491.5 L297.3,501.5 C298,505 299.2,506.6 300.8,506.6 C302.6,506.6 303.6,504.6 303.9,502.2" fill="none" stroke="#000" stroke-width="1.7"/></g>
<text x="918.3" y="471" font-family="Liberation Serif, serif" font-size="34.5">M</text>
<text x="349.4" y="593" font-family="Liberation Sans, sans-serif" font-size="30" textLength="334.1" lengthAdjust="spacingAndGlyphs">Power (Full membrane)</text>
<path d="M363.6,605 L363.6,881 M516.7,605 L516.7,881 M668.8,605 L668.8,881 M212,660.2 L821,660.2 M212,715.1 L821,715.1 M212,770 L821,770 M212,825.3 L821,825.3" stroke="#000" stroke-width="1.1" stroke-dasharray="4,3" fill="none"/>
<rect x="220" y="612.3" width="181.2" height="185.7" fill="#fff" stroke="#000" stroke-width="1.7"/>
<text x="237.9" y="640" font-family="Liberation Sans, sans-serif" font-size="26" textLength="151.3" lengthAdjust="spacingAndGlyphs">IBZ grid size</text>
<path d="M229.5,660.4 L264.8,660.4" stroke="#e2121a" stroke-width="3.6"/>
<text x="280.6" y="669.7" font-family="Liberation Sans, sans-serif" font-size="26">N =</text>
<text x="390.6" y="669.7" font-family="Liberation Sans, sans-serif" font-size="26" text-anchor="end">496</text>
<path d="M229.5,690.6 L264.8,690.6" stroke="#d97c16" stroke-width="3.6"/>
<text x="280.6" y="700" font-family="Liberation Sans, sans-serif" font-size="26">N =</text>
<text x="390.6" y="700" font-family="Liberation Sans, sans-serif" font-size="26" text-anchor="end">1326</text>
<path d="M229.5,720.8 L264.8,720.8" stroke="#f7f016" stroke-width="3.6"/>
<text x="280.6" y="730.3" font-family="Liberation Sans, sans-serif" font-size="26">N =</text>
<text x="390.6" y="730.3" font-family="Liberation Sans, sans-serif" font-size="26" text-anchor="end">2556</text>
<path d="M229.5,751 L264.8,751" stroke="#0f7c14" stroke-width="3.6"/>
<text x="280.6" y="760.6" font-family="Liberation Sans, sans-serif" font-size="26">N =</text>
<text x="390.6" y="760.6" font-family="Liberation Sans, sans-serif" font-size="26" text-anchor="end">4186</text>
<path d="M229.5,781.2 L264.8,781.2" stroke="#1414e2" stroke-width="3.6"/>
<text x="280.6" y="790.9" font-family="Liberation Sans, sans-serif" font-size="26">N =</text>
<text x="390.6" y="790.9" font-family="Liberation Sans, sans-serif" font-size="26" text-anchor="end">6216</text>
<path d="M227.2,880.1 L237.3,880.1 L247.3,880.1 L257.4,880.1 L267.5,879.5 L277.5,878.6 L287.6,877.4 L297.6,876.0 L307.7,874.4 L317.8,872.5 L327.8,870.5 L337.9,868.4 L347.9,866.0 L358.0,863.6 L368.1,861.0 L378.1,858.4 L388.2,855.6 L398.3,852.8 L408.3,849.9 L418.4,846.9 L428.4,843.9 L438.5,840.9 L448.6,837.8 L458.6,834.7 L468.7,831.5 L478.7,828.4 L488.8,825.3 L498.9,822.1 L508.9,819.0 L519.0,815.9 L529.0,812.8 L539.1,809.7 L549.2,806.6 L559.2,803.6 L569.3,800.6 L579.3,797.6 L589.4,794.7 L599.5,791.8 L609.5,788.9 L619.6,786.1 L629.6,783.3 L639.7,780.6 L649.8,778.0 L659.8,775.4 L669.9,772.9 L680.0,770.4 L690.0,768.0 L700.1,765.7 L710.1,763.5 L720.2,761.4 L730.3,759.4 L740.3,757.5 L750.4,755.7 L760.4,754.0 L770.5,752.4 L780.6,751.0 L790.6,749.7 L800.7,748.6 L810.7,747.6 L820.8,746.9" stroke="#1414e2" stroke-width="3.8" fill="none" stroke-linejoin="round"/>
<path d="M227.2,880.1 L237.3,880.1 L247.3,880.1 L257.4,879.9 L267.5,879.1 L277.5,877.9 L287.6,876.4 L297.6,874.6 L307.7,872.6 L317.8,870.4 L327.8,868.0 L337.9,865.4 L347.9,862.6 L358.0,859.7 L368.1,856.7 L378.1,853.6 L388.2,850.4 L398.3,847.1 L408.3,843.8 L418.4,840.4 L428.4,836.9 L438.5,833.5 L448.6,830.0 L458.6,826.5 L468.7,823.0 L478.7,819.6 L488.8,816.1 L498.9,812.6 L508.9,809.2 L519.0,805.7 L529.0,802.3 L539.1,799.0 L549.2,795.6 L559.2,792.3 L569.3,789.0 L579.3,785.8 L589.4,782.6 L599.5,779.5 L609.5,776.4 L619.6,773.3 L629.6,770.4 L639.7,767.4 L649.8,764.5 L659.8,761.7 L669.9,759.0 L680.0,756.3 L690.0,753.7 L700.1,751.2 L710.1,748.8 L720.2,746.4 L730.3,744.2 L740.3,742.1 L750.4,740.0 L760.4,738.2 L770.5,736.4 L780.6,734.8 L790.6,733.4 L800.7,732.2 L810.7,731.1 L820.8,730.3" stroke="#0f7c14" stroke-width="3.8" fill="none" stroke-linejoin="round"/>
<path d="M227.2,880.1 L237.3,880.1 L247.3,879.8 L257.4,879.1 L267.5,878.0 L277.5,876.6 L287.6,874.8 L297.6,872.7 L307.7,870.4 L317.8,867.8 L327.8,865.0 L337.9,862.0 L347.9,858.8 L358.0,855.4 L368.1,851.8 L378.1,848.1 L388.2,844.3 L398.3,840.4 L408.3,836.3 L418.4,832.2 L428.4,828.0 L438.5,823.8 L448.6,819.6 L458.6,815.3 L468.7,811.0 L478.7,806.7 L488.8,802.4 L498.9,798.1 L508.9,793.9 L519.0,789.7 L529.0,785.5 L539.1,781.4 L549.2,777.3 L559.2,773.4 L569.3,769.5 L579.3,765.7 L589.4,761.9 L599.5,758.3 L609.5,754.8 L619.6,751.4 L629.6,748.0 L639.7,744.8 L649.8,741.7 L659.8,738.7 L669.9,735.9 L680.0,733.1 L690.0,730.5 L700.1,728.0 L710.1,725.6 L720.2,723.3 L730.3,721.1 L740.3,719.1 L750.4,717.1 L760.4,715.3 L770.5,713.6 L780.6,712.0 L790.6,710.5 L800.7,709.1 L810.7,707.7 L820.8,706.5" stroke="#f7f016" stroke-width="3.8" fill="none" stroke-linejoin="round"/>
<path d="M227.2,880.1 L237.3,880.1 L247.3,879.5 L257.4,878.3 L267.5,876.7 L277.5,874.6 L287.6,872.1 L297.6,869.2 L307.7,866.0 L317.8,862.4 L327.8,858.6 L337.9,854.6 L347.9,850.4 L358.0,846.0 L368.1,841.4 L378.1,836.8 L388.2,832.0 L398.3,827.1 L408.3,822.2 L418.4,817.2 L428.4,812.2 L438.5,807.2 L448.6,802.1 L458.6,797.1 L468.7,792.2 L478.7,787.2 L488.8,782.3 L498.9,777.5 L508.9,772.7 L519.0,768.0 L529.0,763.4 L539.1,758.9 L549.2,754.4 L559.2,750.1 L569.3,745.8 L579.3,741.7 L589.4,737.6 L599.5,733.7 L609.5,729.8 L619.6,726.1 L629.6,722.5 L639.7,718.9 L649.8,715.5 L659.8,712.2 L669.9,709.0 L680.0,705.9 L690.0,702.9 L700.1,700.0 L710.1,697.2 L720.2,694.6 L730.3,692.0 L740.3,689.5 L750.4,687.2 L760.4,684.9 L770.5,682.8 L780.6,680.8 L790.6,678.9 L800.7,677.1 L810.7,675.4 L820.8,673.9" stroke="#d97c16" stroke-width="3.8" fill="none" stroke-linejoin="round"/>
<path d="M227.2,880.1 L237.3,879.7 L247.3,878.4 L257.4,876.5 L267.5,873.8 L277.5,870.6 L287.6,866.8 L297.6,862.6 L307.7,857.9 L317.8,852.8 L327.8,847.4 L337.9,841.6 L347.9,835.6 L358.0,829.4 L368.1,823.1 L378.1,816.6 L388.2,809.9 L398.3,803.2 L408.3,796.5 L418.4,789.7 L428.4,782.9 L438.5,776.2 L448.6,769.5 L458.6,762.9 L468.7,756.4 L478.7,750.0 L488.8,743.7 L498.9,737.5 L508.9,731.5 L519.0,725.6 L529.0,720.0 L539.1,714.4 L549.2,709.1 L559.2,703.9 L569.3,699.0 L579.3,694.2 L589.4,689.6 L599.5,685.2 L609.5,681.0 L619.6,677.0 L629.6,673.2 L639.7,669.5 L649.8,666.0 L659.8,662.7 L669.9,659.6 L680.0,656.6 L690.0,653.8 L700.1,651.1 L710.1,648.6 L720.2,646.1 L730.3,643.8 L740.3,641.6 L750.4,639.5 L760.4,637.5 L770.5,635.5 L780.6,633.6 L790.6,631.7 L800.7,629.9 L810.7,628.1 L820.8,626.3" stroke="#e2121a" stroke-width="3.8" fill="none" stroke-linejoin="round"/>
<rect x="212.5" y="605.2" width="608.5" height="275.5" fill="none" stroke="#000" stroke-width="2.6"/>
<path d="M212,660.2 L222,660.2 M821,660.2 L811,660.2 M212,715.1 L222,715.1 M821,715.1 L811,715.1 M212,770 L222,770 M821,770 L811,770 M212,825.3 L222,825.3 M821,825.3 L811,825.3 M363.6,881 L363.6,871 M363.6,605 L363.6,615 M516.7,881 L516.7,871 M516.7,605 L516.7,615 M668.8,881 L668.8,871 M668.8,605 L668.8,615" stroke="#000" stroke-width="2.2" fill="none"/>
<text x="197.3" y="617.2" font-family="Liberation Sans, sans-serif" font-size="30" text-anchor="end" textLength="36.4" lengthAdjust="spacingAndGlyphs">50</text>
<text x="197.3" y="672.2" font-family="Liberation Sans, sans-serif" font-size="30" text-anchor="end" textLength="36.4" lengthAdjust="spacingAndGlyphs">40</text>
<text x="197.3" y="727.1" font-family="Liberation Sans, sans-serif" font-size="30" text-anchor="end" textLength="36.4" lengthAdjust="spacingAndGlyphs">30</text>
<text x="197.3" y="782" font-family="Liberation Sans, sans-serif" font-size="30" text-anchor="end" textLength="36.4" lengthAdjust="spacingAndGlyphs">20</text>
<text x="197.3" y="837.3" font-family="Liberation Sans, sans-serif" font-size="30" text-anchor="end" textLength="36.4" lengthAdjust="spacingAndGlyphs">10</text>
<text x="197.3" y="892.7" font-family="Liberation Sans, sans-serif" font-size="30" text-anchor="end" >0</text>
<text x="211.2" y="917" font-family="Liberation Sans, sans-serif" font-size="30" text-anchor="middle">0</text>
<text x="361.3" y="917" font-family="Liberation Sans, sans-serif" font-size="30" text-anchor="middle">0.1</text>
<text x="515" y="917" font-family="Liberation Sans, sans-serif" font-size="30" text-anchor="middle">0.2</text>
<text x="667" y="917" font-family="Liberation Sans, sans-serif" font-size="30" text-anchor="middle">0.3</text>
<text x="819" y="917" font-family="Liberation Sans, sans-serif" font-size="30" text-anchor="middle">0.4</text>
<text x="401.2" y="959.5" font-family="Liberation Sans, sans-serif" font-size="29.5" textLength="231.6" lengthAdjust="spacingAndGlyphs">Temperature (K)</text>
<text transform="translate(132.2,742.6) rotate(-90)" x="0" y="0" font-family="Liberation Sans, sans-serif" font-size="31.5" text-anchor="middle" textLength="253" lengthAdjust="spacingAndGlyphs">Relative error (%)</text>
</svg>
</body></html>
